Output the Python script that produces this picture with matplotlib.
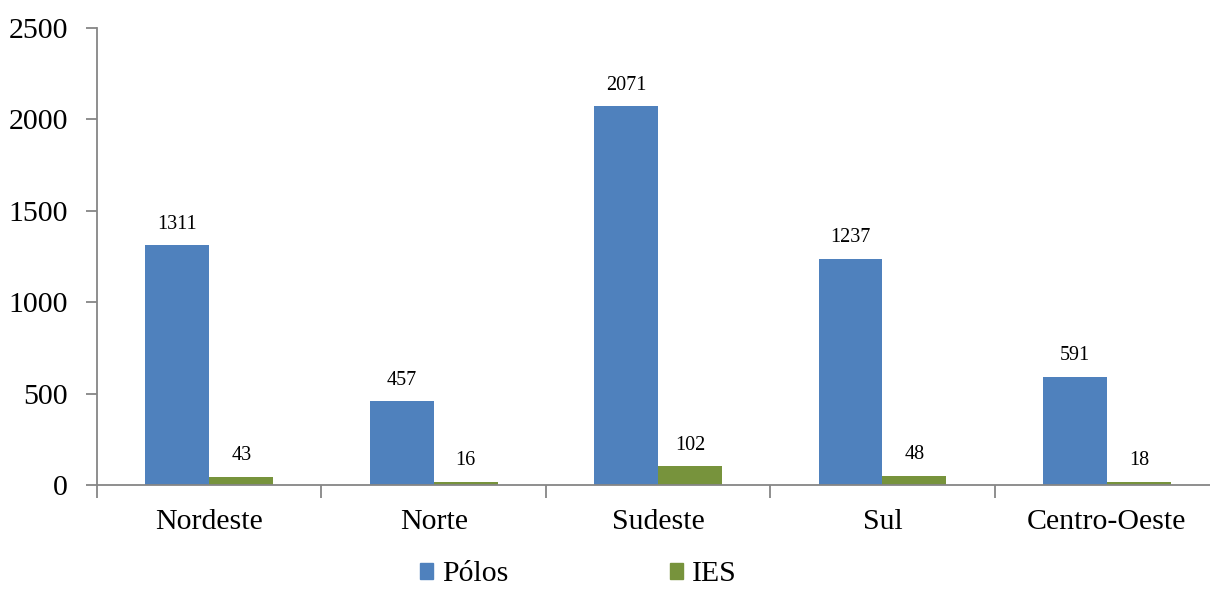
import numpy as np
import matplotlib.pyplot as plt
from matplotlib.patches import Patch

plt.rcParams['font.family'] = ['Liberation Serif', 'DejaVu Serif']

regioes = ["Nordeste", "Norte", "Sudeste", "Sul", "Centro-Oeste"]
polos = [1311, 457, 2071, 1237, 591]
ies = [43, 16, 102, 48, 18]
series_names = ["Pólos", "IES"]

cor_polos = "#4F81BD"
cor_ies = "#77933C"
cor_eixo = "#868686"

fig = plt.figure(figsize=(12.1, 5.92), dpi=100)
ax = fig.add_axes([0.0802, 0.1807, 0.9273, 0.772])

x = np.arange(len(regioes))
w = 0.285
b1 = ax.bar(x - w / 2, polos, w, color=cor_polos)
b2 = ax.bar(x + w / 2, ies, w, color=cor_ies)

# rótulos de valor acima de cada barra
for bars, vals in ((b1, polos), (b2, ies)):
    for rect, v in zip(bars, vals):
        ax.annotate(str(v), (rect.get_x() + rect.get_width() / 2, v),
                    xytext=(0, 8.5), textcoords="offset points",
                    ha="center", va="bottom", fontsize=14.5)

ax.set_xlim(-0.5, len(regioes) - 0.5)
ax.set_ylim(0, 2500)
ax.set_yticks(range(0, 2501, 500))
ax.set_xticks(x)
ax.set_xticklabels(regioes)
ax.set_xticks(np.arange(len(regioes) + 1) - 0.5, minor=True)

for s in ("top", "right"):
    ax.spines[s].set_visible(False)
for s in ("left", "bottom"):
    ax.spines[s].set_color(cor_eixo)
    ax.spines[s].set_linewidth(1.3)

ax.tick_params(axis="y", length=8, width=1.3, color=cor_eixo, labelsize=21.5, pad=13)
ax.tick_params(axis="x", which="major", length=0, labelsize=21.5, pad=17)
ax.tick_params(axis="x", which="minor", length=9, width=1.3, color=cor_eixo)

handles = [Patch(color=cor_polos), Patch(color=cor_ies)]
fig.legend(handles, series_names, loc="center", bbox_to_anchor=(0.478, 0.03),
           ncol=2, frameon=False, fontsize=21.5, handlelength=0.45,
           handleheight=0.45, handletextpad=0.3, columnspacing=5.4,
           borderpad=0.1)

fig.savefig("out.png", dpi=100)
